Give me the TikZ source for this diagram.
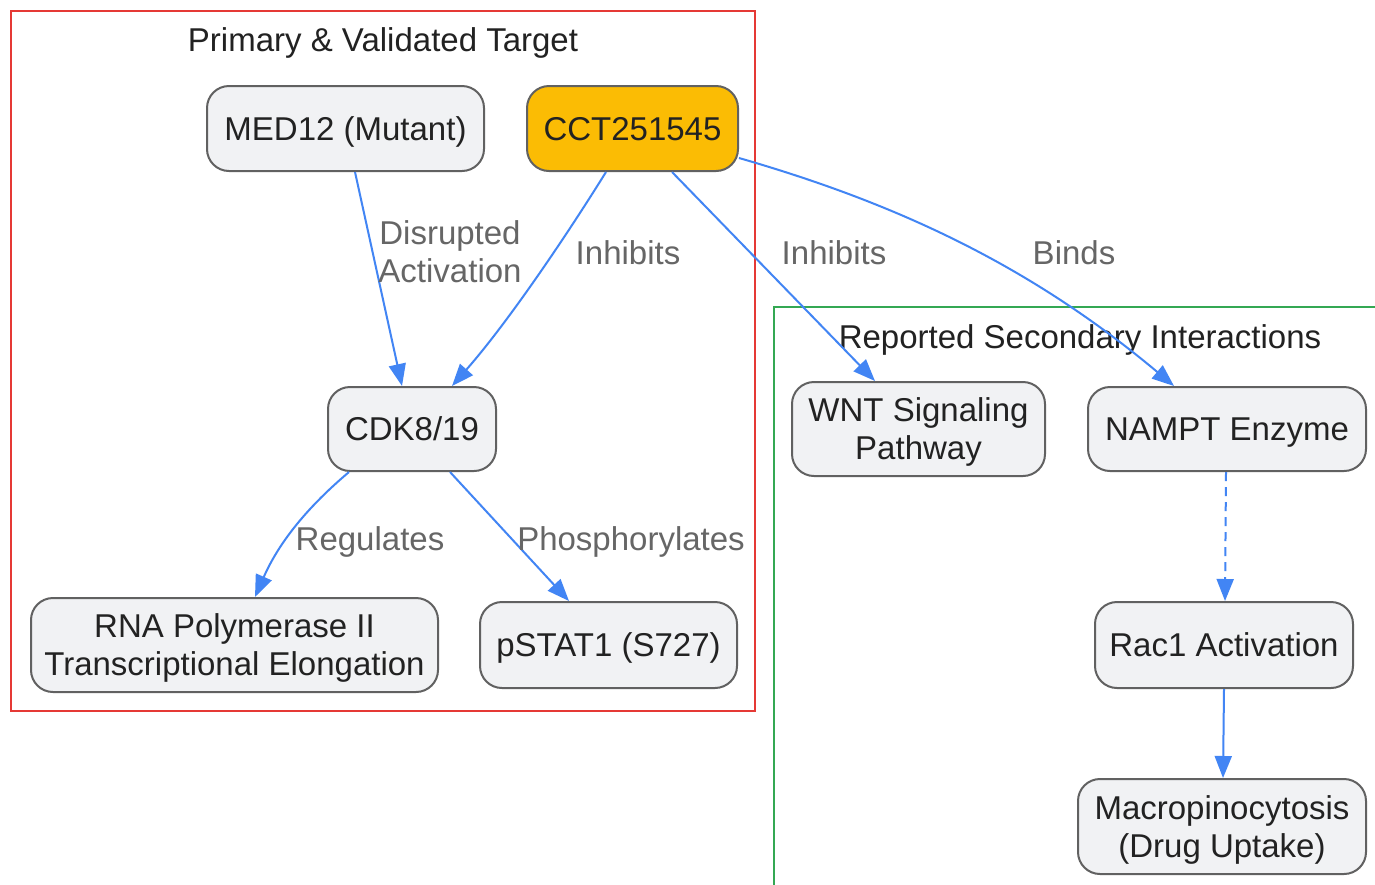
\documentclass[tikz,border=0pt]{standalone}
\usepackage{fontspec}
\setmainfont{Liberation Sans}
\usetikzlibrary{arrows.meta}
\definecolor{nodefill}{HTML}{F1F2F4}
\definecolor{nodeline}{HTML}{616161}
\definecolor{txt}{HTML}{222222}
\definecolor{lbl}{HTML}{666666}
\definecolor{yel}{HTML}{FBBC04}
\definecolor{edge}{HTML}{4285F4}
\definecolor{redb}{HTML}{E53935}
\definecolor{greenb}{HTML}{34A853}
\tikzset{
  every node/.style={font=\fontsize{33}{38}\selectfont, text=txt, text depth=0pt},
  box/.style={draw=nodeline, line width=2pt, fill=nodefill, rounded corners=22pt, align=center, inner sep=0pt},
  conn/.style={draw=edge, line width=2pt, -{Triangle[length=22pt,width=17pt]}},
  elabel/.style={text=lbl, align=center, inner sep=0pt},
  grp/.style={line width=2pt},
}
\begin{document}
\begin{tikzpicture}[x=1pt,y=-1pt]
\useasboundingbox (0,0) rectangle (1375,884);
\clip (0,0) rectangle (1375,884);
\fill[white] (0,0) rectangle (1375,884);
% groups
\draw[grp, draw=redb] (11,11) rectangle (755,711);
\node (t1) at (383,40) {Primary \& Validated Target};
\draw[grp, draw=greenb] (774,307) rectangle (1400,920);
\node (t2) at (1080,337) {Reported Secondary Interactions};
% nodes
\node[box, minimum width=277pt, minimum height=85pt] (med) at (345.5,128.5) {MED12 (Mutant)};
\node[box, fill=yel, minimum width=211pt, minimum height=85pt] (cct) at (632.5,128.5) {CCT251545};
\node[box, minimum width=168pt, minimum height=84pt] (cdk) at (412,429) {CDK8/19};
\node[box, minimum width=407pt, minimum height=94pt] (rna) at (234.5,645) {RNA Polymerase II\\Transcriptional Elongation};
\node[box, minimum width=257pt, minimum height=86pt] (stat) at (608.5,645) {pSTAT1 (S727)};
\node[box, minimum width=253pt, minimum height=94pt] (wnt) at (918.5,429) {WNT Signaling\\Pathway};
\node[box, minimum width=278pt, minimum height=84pt] (nampt) at (1227,429) {NAMPT Enzyme};
\node[box, minimum width=258pt, minimum height=86pt] (rac) at (1224,645) {Rac1 Activation};
\node[box, minimum width=288pt, minimum height=95pt] (macro) at (1222,826.5) {Macropinocytosis\\(Drug Uptake)};
% connectors
\draw[conn] ([xshift=9.5pt]med.south) -- ([xshift=-10pt]cdk.north);
\node[elabel] (l1) at (450,252) {Disrupted\\Activation};
\draw[conn] ([xshift=-26.5pt]cct.south) .. controls (570,230) and (510,320) .. ([xshift=40pt]cdk.north);
\node[elabel] (l2) at (628,253) {Inhibits};
\draw[conn] ([xshift=39.5pt]cct.south) -- ([xshift=-43.5pt]wnt.north);
\node[elabel] (l3) at (834,253) {Inhibits};
\draw[conn] ([yshift=-29.5pt]cct.east) .. controls (888,201) and (1025,261) .. ([xshift=-53pt]nampt.north);
\node[elabel] (l4) at (1074,253) {Binds};
\draw[conn] ([xshift=-63pt]cdk.south) .. controls (310,505) and (280,540) .. ([xshift=20.5pt]rna.north);
\node[elabel] (l5) at (370,539) {Regulates};
\draw[conn] ([xshift=38pt]cdk.south) -- ([xshift=-39.5pt]stat.north);
\node[elabel] (l6) at (631,539) {Phosphorylates};
\draw[conn, dashed, dash pattern=on 9pt off 6pt] ([xshift=-1pt]nampt.south) -- ([xshift=1pt]rac.north);
\draw[conn] (rac.south) -- ([xshift=1pt]macro.north);
\end{tikzpicture}
\end{document}
